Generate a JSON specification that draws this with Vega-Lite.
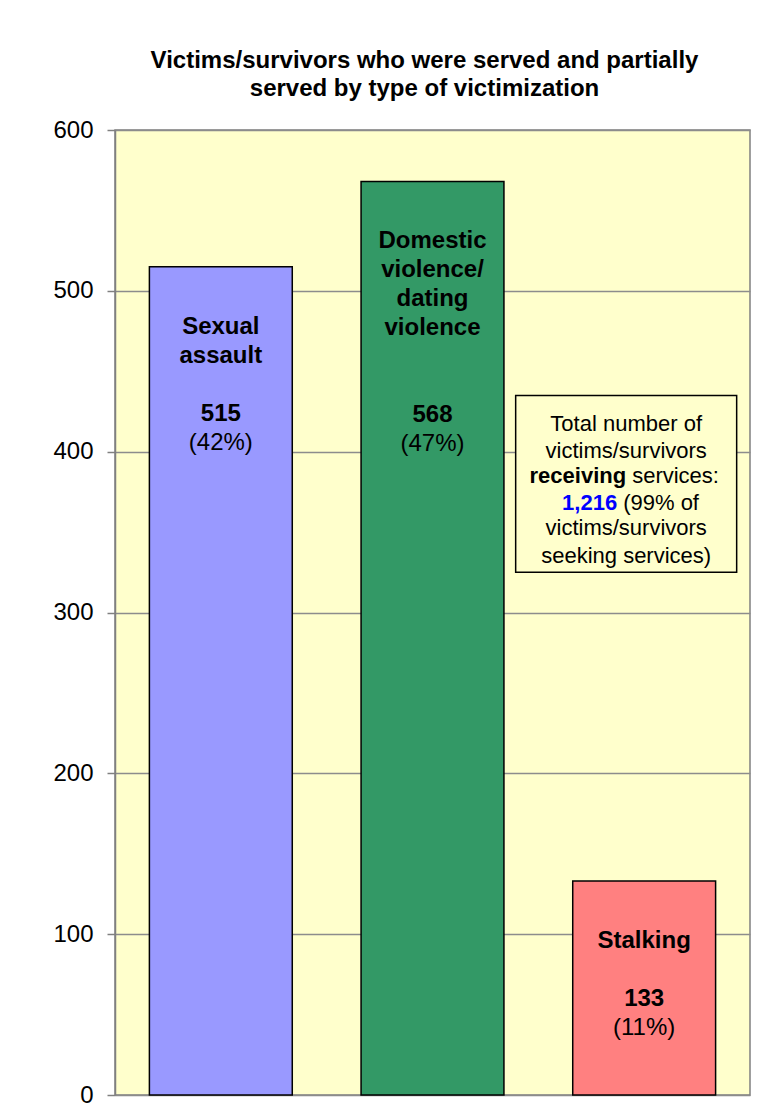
{
  "$schema": "https://vega.github.io/schema/vega-lite/v6.json",
  "autosize": "none",
  "width": 635,
  "height": 965,
  "padding": {"left": 115, "top": 130, "right": 27, "bottom": 21},
  "background": "white",
  "config": {
    "font": "Liberation Sans",
    "view": {"fill": "#FFFFCC", "stroke": "#808080", "strokeWidth": 1.5},
    "title": {"fontSize": 24, "fontWeight": "bold", "color": "black", "anchor": "middle", "lineHeight": 28, "offset": 17, "dx": -8, "font": "Liberation Sans"},
    "axisY": {
      "title": null,
      "labelFontSize": 24, "labelColor": "black", "labelFont": "Liberation Sans",
      "tickSize": 8, "tickColor": "#808080", "tickWidth": 1.5,
      "labelPadding": 14,
      "domainColor": "#808080", "domainWidth": 1.5,
      "grid": true, "gridColor": "#8c8c8c", "gridWidth": 1.5
    }
  },
  "title": {"text": ["Victims/survivors who were served and partially", "served by type  of victimization"]},
  "data": {
    "values": [
      {"kind": "bar", "type": "Sexual assault", "count": 515, "boldLabel": "Sexual\nassault\n\u200b\n515", "pctLabel": "\u200b\n\u200b\n\u200b\n\u200b\n(42%)"},
      {"kind": "bar", "type": "Domestic violence/dating violence", "count": 568, "boldLabel": "Domestic\nviolence/\ndating\nviolence\n\u200b\n\u200b\n568", "pctLabel": "\u200b\n\u200b\n\u200b\n\u200b\n\u200b\n\u200b\n\u200b\n(47%)"},
      {"kind": "bar", "type": "Stalking", "count": 133, "boldLabel": "Stalking\n\u200b\n133", "pctLabel": "\u200b\n\u200b\n\u200b\n(11%)"},
      {"kind": "note", "type": "Stalking", "line1": "Total number of\nvictims/survivors", "bold3": "receiving", "reg3": "services:", "num4": "1,216", "reg4": "(99% of", "line5": "victims/survivors\nseeking services)"}
    ]
  },
  "encoding": {
    "x": {
      "field": "type", "type": "nominal", "sort": null,
      "scale": {"domain": ["Sexual assault", "Domestic violence/dating violence", "Stalking"], "paddingInner": 0.325, "paddingOuter": 0.1625},
      "axis": null
    }
  },
  "resolve": {"axis": {"y": "independent"}},
  "layer": [
    {
      "transform": [{"filter": "datum.kind === 'bar'"}],
      "encoding": {
        "y": {
          "field": "count", "type": "quantitative",
          "scale": {"domain": [0, 600], "nice": false},
          "axis": {"title": null, "values": [0, 100, 200, 300, 400, 500, 600]}
        }
      },
      "layer": [
        {
          "mark": {"type": "bar", "stroke": "black", "strokeWidth": 1.5},
          "encoding": {
            "color": {
              "field": "type", "type": "nominal",
              "scale": {"domain": ["Sexual assault", "Domestic violence/dating violence", "Stalking"], "range": ["#9999FF", "#339966", "#FF8080"]},
              "legend": null
            }
          }
        },
        {
          "mark": {"type": "text", "fontWeight": "bold", "fontSize": 24, "lineBreak": "\n", "lineHeight": 29, "baseline": "middle", "align": "center", "dy": 60, "color": "black"},
          "encoding": {"text": {"field": "boldLabel"}}
        },
        {
          "mark": {"type": "text", "fontSize": 24, "lineBreak": "\n", "lineHeight": 29, "baseline": "middle", "align": "center", "dy": 60, "color": "black"},
          "encoding": {"text": {"field": "pctLabel"}}
        }
      ]
    },
    {
      "transform": [{"filter": "datum.kind === 'note'"}],
      "layer": [
        {
          "mark": {"type": "bar", "fill": "#FFFFCC", "stroke": "black", "strokeWidth": 1.5, "width": 221, "xOffset": -18},
          "encoding": {
            "y": {"datum": 435, "type": "quantitative", "axis": null},
            "y2": {"datum": 325}
          }
        },
        {
          "mark": {"type": "text", "fontSize": 22, "lineBreak": "\n", "lineHeight": 27, "baseline": "middle", "align": "center", "dx": -18, "dy": 29, "color": "black"},
          "encoding": {"y": {"datum": 435, "type": "quantitative", "axis": null}, "text": {"field": "line1"}}
        },
        {
          "mark": {"type": "text", "fontSize": 22, "fontWeight": "bold", "baseline": "middle", "align": "right", "dx": -18, "dy": 81, "color": "black"},
          "encoding": {"y": {"datum": 435, "type": "quantitative", "axis": null}, "text": {"field": "bold3"}}
        },
        {
          "mark": {"type": "text", "fontSize": 22, "baseline": "middle", "align": "left", "dx": -12, "dy": 81, "color": "black"},
          "encoding": {"y": {"datum": 435, "type": "quantitative", "axis": null}, "text": {"field": "reg3"}}
        },
        {
          "mark": {"type": "text", "fontSize": 22, "fontWeight": "bold", "baseline": "middle", "align": "right", "dx": -27, "dy": 108, "color": "#0000FF"},
          "encoding": {"y": {"datum": 435, "type": "quantitative", "axis": null}, "text": {"field": "num4"}}
        },
        {
          "mark": {"type": "text", "fontSize": 22, "baseline": "middle", "align": "left", "dx": -21, "dy": 108, "color": "black"},
          "encoding": {"y": {"datum": 435, "type": "quantitative", "axis": null}, "text": {"field": "reg4"}}
        },
        {
          "mark": {"type": "text", "fontSize": 22, "lineBreak": "\n", "lineHeight": 28, "baseline": "middle", "align": "center", "dx": -18, "dy": 133, "color": "black"},
          "encoding": {"y": {"datum": 435, "type": "quantitative", "axis": null}, "text": {"field": "line5"}}
        }
      ]
    }
  ]
}
